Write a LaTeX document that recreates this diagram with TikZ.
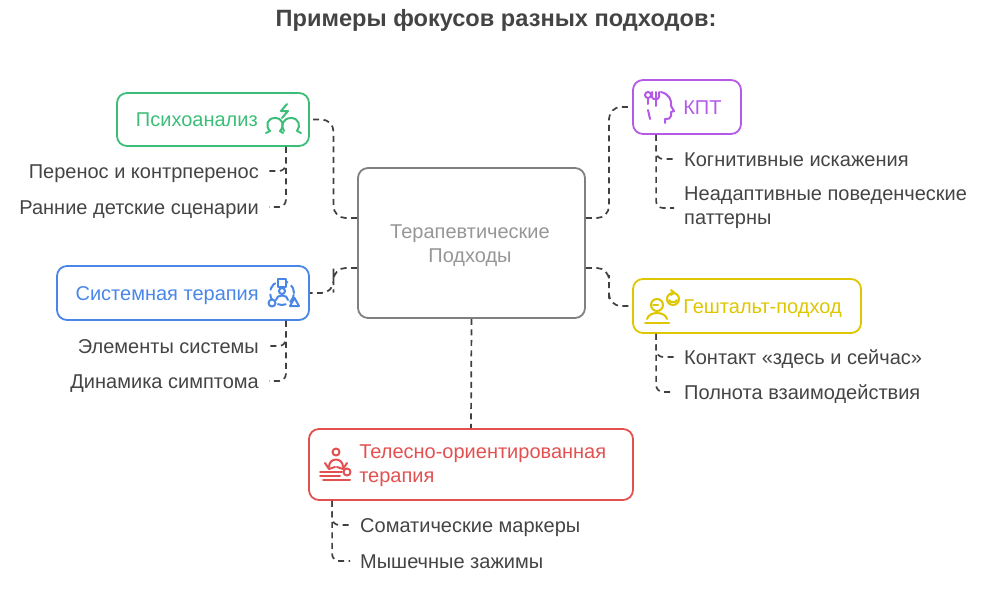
\documentclass[tikz,border=0pt]{standalone}
\usepackage{fontspec}
\setmainfont{Liberation Sans}
\usetikzlibrary{calc}
\definecolor{cdark}{RGB}{68,68,68}
\definecolor{cline}{RGB}{64,64,64}
\definecolor{cgray}{RGB}{128,128,128}
\definecolor{cgraytext}{RGB}{150,150,150}
\definecolor{cgreen}{RGB}{60,190,120}
\definecolor{cblue}{RGB}{74,134,232}
\definecolor{cpurple}{RGB}{180,90,230}
\definecolor{cyellow}{RGB}{222,198,0}
\definecolor{cred}{RGB}{226,80,80}
\begin{document}
\begin{tikzpicture}[x=1pt, y=-1pt,
		box/.style={draw, rounded corners=10pt, line width=1.8pt},
		head/.style={font=\fontsize{20}{24}\selectfont, inner sep=0pt, text height=14pt, text depth=0pt},
		item/.style={font=\fontsize{20}{24}\selectfont, text=cdark, inner xsep=10pt, inner ysep=0pt, text height=14pt, text depth=0pt},
		item2/.style={font=\fontsize{20}{24}\selectfont, text=cdark, inner xsep=10pt, inner ysep=0pt, align=left},
		link/.style={draw=cline, line width=1.7pt, dash pattern=on 6pt off 4.5pt, rounded corners=12pt},
		sub/.style={draw=cline, line width=1.7pt, dash pattern=on 6pt off 4.5pt, rounded corners=7pt},
		icon/.style={line width=2pt, line cap=round, line join=round}]
	\useasboundingbox (0,0) rectangle (992,589);
	\node[font=\bfseries\fontsize{23.6}{28}\selectfont, text=cdark] (title) at (496,20) {Примеры фокусов разных подходов:};
	% centre
	\node[box, draw=cgray, minimum width=227pt, minimum height=150pt, text=cgraytext, align=center,
		font=\fontsize{20}{24}\selectfont] (core) at (471.5,243) {};
	\node[font=\fontsize{20}{24}\selectfont, text=cgraytext, align=center, inner sep=0pt]
		(coreT) at (470,246) {Терапевтические\\Подходы};
	% approaches
	\node[box, draw=cgreen, minimum width=192pt, minimum height=53pt] (psy) at (213,119.5) {};
	\node[box, draw=cblue, minimum width=252pt, minimum height=54pt] (sys) at (183,293) {};
	\node[box, draw=cpurple, minimum width=108pt, minimum height=54pt] (kpt) at (687,107) {};
	\node[box, draw=cyellow, minimum width=228pt, minimum height=54pt] (gst) at (747,306) {};
	\node[box, draw=cred, minimum width=324pt, minimum height=71pt] (body) at (471,464.5) {};
	\node[head, text=cgreen, anchor=east] (psyT) at ([xshift=-52pt]psy.east) {Психоанализ};
	\node[head, text=cblue, anchor=east] (sysT) at ([xshift=-51pt]sys.east) {Системная терапия};
	\node[head, text=cpurple, anchor=west] (kptT) at ([xshift=51pt]kpt.west) {КПТ};
	\node[head, text=cyellow, anchor=west] (gstT) at ([xshift=51pt]gst.west) {Гештальт-подход};
	\node[font=\fontsize{20}{24}\selectfont, text=cred, inner sep=0pt, align=left, anchor=west]
		(bodyT) at ([xshift=51pt,yshift=-1pt]body.west) {Телесно-ориентированная\\терапия};
	% links
	\draw[link] ([yshift=25pt]core.west) -| ($([yshift=25pt]core.west)!.5!(psy.east)$) |- (psy.east);
	\draw[link] ([yshift=-25pt]core.west) -| ($([yshift=-25pt]core.west)!.5!(sys.east)$) |- (sys.east);
	\draw[link] ([yshift=25pt]core.east) -| ($([yshift=25pt]core.east)!.5!(kpt.west)$) |- (kpt.west);
	\draw[link] ([yshift=-25pt]core.east) -| ($([yshift=-25pt]core.east)!.5!(gst.west)$) |- (gst.west);
	\draw[link] (core.south) -- (body.north);
	% details
	\node[item, anchor=east] (p1) at (269,171) {Перенос и контрперенос};
	\node[item, anchor=east] (p2) at (269,207) {Ранние детские сценарии};
	\node[item, anchor=east] (s1) at (269,346) {Элементы системы};
	\node[item, anchor=east] (s2) at (269,381) {Динамика симптома};
	\node[item, anchor=west] (k1) at (674,159) {Когнитивные искажения};
	\node[item2, anchor=west] (k2) at (674,208) {Неадаптивные поведенческие\\паттерны};
	\node[item, anchor=west] (g1) at (674,357) {Контакт «здесь и сейчас»};
	\node[item, anchor=west] (g2) at (674,392) {Полнота взаимодействия};
	\node[item, anchor=west] (b1) at (350,525) {Соматические маркеры};
	\node[item, anchor=west] (b2) at (350,561) {Мышечные зажимы};
	\draw[sub] ([xshift=-24pt]psy.south east) |- (p1.east);
	\draw[sub] ([xshift=-24pt]psy.south east) |- (p2.east);
	\draw[sub] ([xshift=-24pt]sys.south east) |- (s1.east);
	\draw[sub] ([xshift=-24pt]sys.south east) |- (s2.east);
	\draw[sub] ([xshift=24pt]kpt.south west) |- (k1.west);
	\draw[sub] ([xshift=24pt]kpt.south west) |- (k2.west);
	\draw[sub] ([xshift=24pt]gst.south west) |- (g1.west);
	\draw[sub] ([xshift=24pt]gst.south west) |- (g2.west);
	\draw[sub] ([xshift=24pt]body.south west) |- (b1.west);
	\draw[sub] ([xshift=24pt]body.south west) |- (b2.west);
	% icons
	\begin{scope}[icon, draw=cgreen]
		\draw (287,104) -- (281,111) -- (288,111) -- (282,118);
		\draw (266,133) -- (270,131) .. controls (265,126) and (267,118) .. (275,118)
			.. controls (283,118) and (285,126) .. (280,131) -- (283,133);
		\draw (284,131) .. controls (280,126) and (283,118) .. (291,118)
			.. controls (299,118) and (301,126) .. (297,131) -- (301,133);
	\end{scope}
	\begin{scope}[icon, draw=cblue]
		\draw[dash pattern=on 8pt off 5pt] (282,293) circle (12pt);
		\draw[fill=white] (278,279) rectangle (286,287);
		\draw (282,291) circle (3pt);
		\draw (276,300) .. controls (276,294) and (288,294) .. (288,300);
		\draw[fill=white] (272,303) circle (3.5pt);
		\draw[fill=white] (290,306) -- (294.5,298) -- (299,306) -- cycle;
	\end{scope}
	\begin{scope}[icon, draw=cpurple]
		\draw (648,95) circle (3pt);
		\draw (648,98) -- (648,104);
		\draw (652,92) -- (652,97) .. controls (652,100) and (659,100) .. (659,97) -- (659,92);
		\draw (655.5,92) -- (655.5,106);
		\draw (648,110) -- (650,119);
		\draw (661,92) .. controls (669,94) and (672,100) .. (671,106) -- (674,111) -- (671,112)
			-- (671,116) .. controls (671,119) and (668,119) .. (665,119) -- (665,123);
	\end{scope}
	\begin{scope}[icon, draw=cyellow]
		\draw (657,305) circle (6pt);
		\draw (653,305) -- (658,305);
		\draw (647,319) .. controls (649,311) and (665,311) .. (667,319);
		\draw (645,323) -- (669,323);
		\draw (673,299) circle (6pt);
		\draw (669,300) .. controls (670,303) and (676,303) .. (677,300);
		\draw (671,290) -- (674,292.5) -- (671,295);
	\end{scope}
	\begin{scope}[icon, draw=cred]
		\draw (336,452) circle (3.5pt);
		\draw (329,467) .. controls (329,457) and (343,457) .. (343,467);
		\draw (325,463) -- (329,469) -- (335,467);
		\draw (347,463) -- (343,469) -- (337,467);
		\draw (320,472) -- (342,472);
		\draw (320,476) -- (340,476);
		\draw (323,480) -- (350,480);
		\draw (347,472) circle (3.5pt);
	\end{scope}
\end{tikzpicture}
\end{document}
